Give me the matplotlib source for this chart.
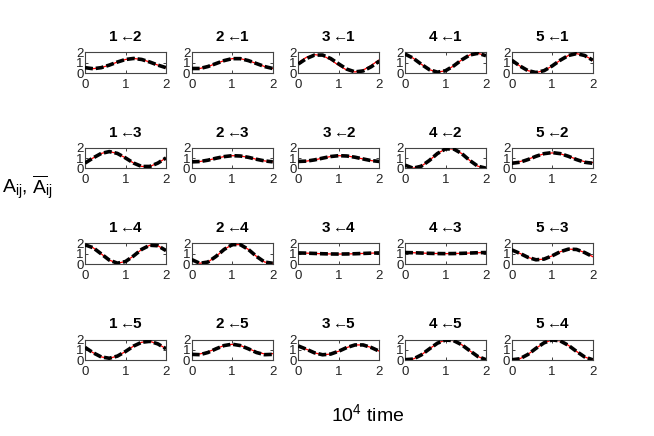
import matplotlib
matplotlib.use("Agg")
import matplotlib.pyplot as plt

plt.rcParams['font.family'] = ['Liberation Sans', 'DejaVu Sans']
plt.rcParams['mathtext.fontset'] = 'custom'
plt.rcParams['mathtext.rm'] = 'Liberation Sans'
plt.rcParams['mathtext.it'] = 'Liberation Sans:italic'
plt.rcParams['mathtext.bf'] = 'Liberation Sans:bold'

# time axis (10^4 time units)
t = [0.0, 0.2, 0.4, 0.6, 0.8, 1.0, 1.2, 1.4, 1.6, 1.8, 2.0]

# panel titles (target <- source), row by row
targets = ["1", "2", "3", "4", "5",
           "1", "2", "3", "4", "5",
           "1", "2", "3", "4", "5",
           "1", "2", "3", "4", "5"]
sources = ["2", "1", "1", "1", "1",
           "3", "3", "2", "2", "2",
           "4", "4", "4", "3", "3",
           "5", "5", "5", "5", "4"]

# true coupling A_ij (red)
A_1_2 = [0.52, 0.42, 0.52, 0.77, 1.07, 1.32, 1.42, 1.32, 1.07, 0.77, 0.52]
A_2_1 = [0.44, 0.44, 0.63, 0.92, 1.21, 1.40, 1.40, 1.21, 0.92, 0.63, 0.44]
A_3_1 = [1.02, 1.53, 1.79, 1.70, 1.29, 0.74, 0.28, 0.10, 0.28, 0.74, 1.29]
A_4_1 = [1.85, 1.45, 0.86, 0.33, 0.08, 0.22, 0.69, 1.28, 1.76, 1.92, 1.69]
A_5_1 = [1.25, 0.69, 0.23, 0.05, 0.23, 0.69, 1.25, 1.71, 1.89, 1.71, 1.25]
A_1_3 = [0.53, 1.03, 1.47, 1.65, 1.47, 1.03, 0.53, 0.20, 0.20, 0.53, 1.03]
A_2_3 = [0.65, 0.68, 0.81, 1.00, 1.16, 1.25, 1.22, 1.09, 0.90, 0.74, 0.65]
A_3_2 = [0.69, 0.72, 0.84, 1.01, 1.17, 1.25, 1.22, 1.10, 0.93, 0.77, 0.69]
A_4_2 = [0.33, 0.03, 0.22, 0.78, 1.46, 1.91, 1.91, 1.46, 0.78, 0.22, 0.03]
A_5_2 = [0.58, 0.67, 0.90, 1.20, 1.43, 1.52, 1.43, 1.20, 0.90, 0.67, 0.58]
A_1_4 = [1.87, 1.59, 0.99, 0.38, 0.08, 0.24, 0.79, 1.43, 1.83, 1.78, 1.31]
A_2_4 = [0.43, 0.07, 0.19, 0.74, 1.42, 1.89, 1.89, 1.42, 0.74, 0.19, 0.07]
A_3_4 = [1.08, 1.06, 1.03, 1.00, 0.98, 0.97, 0.98, 1.00, 1.03, 1.06, 1.08]
A_4_3 = [1.12, 1.10, 1.07, 1.04, 1.02, 1.01, 1.02, 1.04, 1.07, 1.10, 1.12]
A_5_3 = [1.38, 1.04, 0.65, 0.41, 0.48, 0.80, 1.20, 1.45, 1.42, 1.12, 0.72]
A_1_5 = [1.23, 0.71, 0.30, 0.17, 0.38, 0.83, 1.36, 1.73, 1.82, 1.57, 1.10]
A_2_5 = [0.62, 0.59, 0.79, 1.11, 1.41, 1.53, 1.41, 1.11, 0.79, 0.59, 0.62]
A_3_5 = [1.37, 1.05, 0.70, 0.51, 0.58, 0.86, 1.22, 1.47, 1.47, 1.22, 0.86]
A_4_5 = [0.03, 0.09, 0.49, 1.08, 1.64, 1.95, 1.89, 1.49, 0.90, 0.34, 0.03]
A_5_4 = [0.02, 0.12, 0.54, 1.14, 1.68, 1.96, 1.86, 1.43, 0.84, 0.30, 0.02]

# estimated coupling (black dashed) where it visibly differs from the truth
E_3_1 = [0.88, 1.41, 1.75, 1.75, 1.41, 0.88, 0.37, 0.11, 0.20, 0.61, 1.16]
E_5_2 = [0.51, 0.61, 0.87, 1.19, 1.45, 1.55, 1.45, 1.19, 0.87, 0.61, 0.51]
E_2_5 = [0.55, 0.52, 0.73, 1.09, 1.41, 1.54, 1.41, 1.09, 0.73, 0.52, 0.55]

true_series = [A_1_2, A_2_1, A_3_1, A_4_1, A_5_1,
               A_1_3, A_2_3, A_3_2, A_4_2, A_5_2,
               A_1_4, A_2_4, A_3_4, A_4_3, A_5_3,
               A_1_5, A_2_5, A_3_5, A_4_5, A_5_4]
est_series = [A_1_2, A_2_1, E_3_1, A_4_1, A_5_1,
              A_1_3, A_2_3, A_3_2, A_4_2, E_5_2,
              A_1_4, A_2_4, A_3_4, A_4_3, A_5_3,
              A_1_5, E_2_5, A_3_5, A_4_5, A_5_4]

xticks = [0, 1, 2]
yticks = [0, 1, 2]

W, H = 654, 436
fig = plt.figure(figsize=(W / 100, H / 100), dpi=100)

col_left = [85, 191.7, 298.3, 405, 511.7]
row_top = [52.5, 148, 243.5, 339.5]
aw, ah = 81, 20.5

for k, (tg, sc, tr, es) in enumerate(zip(targets, sources, true_series, est_series)):
    r, c = divmod(k, 5)
    ax = fig.add_axes([col_left[c] / W, 1 - (row_top[r] + ah) / H, aw / W, ah / H])
    ax.plot(t, tr, color='red', lw=0.9, zorder=2)
    ax.plot(t, es, color='black', lw=2.6, ls=(0, (2.2, 0.8)), zorder=3)
    ax.set_xlim(0, 2)
    ax.set_ylim(0, 2)
    ax.set_xticks(xticks)
    ax.set_yticks(yticks)
    ax.tick_params(direction='in', length=2, width=0.6, top=True, right=True,
                   labelsize=9.5, colors='#222222')
    ax.tick_params(axis='x', pad=4)
    ax.tick_params(axis='y', pad=1)
    for s in ax.spines.values():
        s.set_color('#444444')
        s.set_linewidth(0.8)
    ax.set_title(tg + r"$\leftarrow\!\!$" + sc, fontsize=11, fontweight='bold', pad=8)

fig.text(2 / W, 1 - 188 / H, r"A$_{\mathrm{ij}}$, $\overline{\mathrm{A}}_{\mathrm{ij}}$",
         fontsize=14, ha='left', va='center')
fig.text(368 / W, 1 - 414 / H, r"10$^4$ time", fontsize=14, ha='center', va='center')

fig.savefig("out.png", dpi=100)
